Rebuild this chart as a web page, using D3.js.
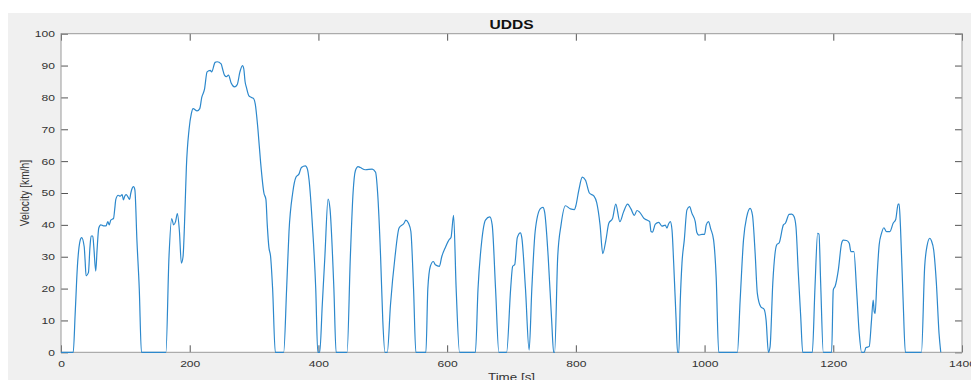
<!DOCTYPE html>
<html>
<head>
<meta charset="utf-8">
<script src="https://cdn.jsdelivr.net/npm/d3@7"></script>
<style>
  body { margin: 0; background: #fff; }
  svg { display: block; }
  text { font-family: "Liberation Sans", Arial, sans-serif; fill: #333; }
</style>
</head>
<body>
<div id="chart"></div>
<script>
// UDDS drive cycle
const timeS = [
  0, 19, 22, 25.5, 29.6, 32, 36, 37.4, 39, 42.6, 45, 46.8, 49.4, 51, 54, 56, 58.7, 61.8, 66, 70,
  72.7, 75, 77.4, 81.6, 83.5, 85.2, 88.8, 92, 95, 97.1, 99, 101.3, 104, 106.5, 108.5, 110.6, 112.7, 114.8, 118, 121.6,
  125, 163, 167.8, 172, 175, 178, 180.8, 184, 187, 189.6, 192.7, 194.8, 199, 202.6, 205.2, 211.4, 215.6, 218.7, 222.9, 227,
  232, 234, 239.5, 242.6, 248.8, 251, 254, 257, 260.3, 264.4, 269.6, 273.8, 278, 282, 284, 286, 288.3, 292, 296, 299.7,
  301.8, 306, 310, 315.3, 318.4, 320.5, 323, 325.7, 328.8, 333, 346, 350.6, 354.3, 360, 365.2, 369.9, 373.5, 379.7, 382.9, 385.5,
  390.6, 395.8, 399, 402, 406, 410, 415, 418, 424, 427.5, 444.5, 449.6, 453.8, 457.4, 461.6, 465, 473, 483.6, 488.8, 492,
  496.6, 500, 503.4, 507, 512, 519, 525.3, 533, 535.8, 540, 543.6, 547.8, 551.4, 567, 570, 573.9, 578.6, 581.7, 588, 591.6,
  597.4, 603.7, 606, 610, 614, 619.3, 643.9, 648, 653.8, 659.5, 666.3, 670, 675.2, 680.4, 692.4, 698.7, 701.8, 705, 709, 713.8,
  716, 721.7, 727.4, 731.6, 736.8, 744.6, 748.8, 751.5, 757, 762.4, 765.5, 767, 771.8, 777, 783.8, 791.6, 798, 800, 804.7, 810,
  815, 821, 828.2, 832.4, 837.6, 841.8, 846.5, 851.2, 857, 862, 868.4, 874, 880.4, 885.6, 890.9, 895, 899, 906, 910.6, 914.7,
  916.8, 918.9, 923.5, 928.7, 933.9, 939, 941.5, 944, 946.8, 949.4, 952, 955.6, 958, 960, 962.3, 964.9, 968.5, 972.6, 976.7, 980.4,
  985.5, 988, 991, 995.9, 1000, 1002.6, 1006, 1009.8, 1014, 1018, 1022, 1051, 1055.3, 1060.5, 1065.6, 1070.8, 1074.4, 1078.6, 1082, 1087.3,
  1092.5, 1095.6, 1099.2, 1101.8, 1106, 1112, 1116, 1122.5, 1125.6, 1131.3, 1135.4, 1139, 1142, 1145.7, 1149.4, 1152.5, 1167.4, 1171.6, 1175.7, 1177.8,
  1180.4, 1184.5, 1197.4, 1200, 1203, 1207.8, 1212.9, 1215.5, 1220.7, 1224.8, 1227.4, 1232, 1236.2, 1240.3, 1244, 1248, 1250.8, 1255.8, 1259.4, 1262,
  1263.6, 1265, 1268, 1271.3, 1274.9, 1278.6, 1282.7, 1287.9, 1293, 1297, 1300.8, 1302.3, 1304.4, 1308.5, 1312, 1337, 1342, 1345.7, 1350, 1352.5,
  1356, 1360.2, 1364.3, 1367
];
const velocityKmh = [
  0, 0, 12, 27, 35, 36, 33.2, 29, 24, 25, 33, 36.5, 36.5, 33, 25.5, 32, 39, 40, 39.7, 39.7,
  41, 40, 41.5, 42, 45, 48, 49.3, 49, 49.5, 47.8, 49, 49.5, 48.8, 48, 50, 51.5, 52, 51, 35, 20,
  0, 0, 30, 42, 40, 41, 43.5, 38, 28, 30, 45, 58, 70, 75, 76.5, 75.8, 76.5, 80, 82.5, 88,
  88.5, 88, 91, 91.2, 90.5, 89, 87, 86.5, 87, 84.5, 83.3, 84, 88, 90, 89, 85, 83, 80.5, 80, 79.5,
  78, 70, 60, 50, 48, 40, 33, 30, 20, 0, 0, 20, 38, 50, 55, 56, 58, 58.5, 57.5, 54,
  40, 20, 0, 0, 15, 30, 48.1, 45, 20, 0, 0, 30, 50, 57, 58.3, 58, 57.3, 57.5, 56.5, 50,
  30, 10, 0, 0, 15, 30, 39, 40.5, 41.5, 40.5, 38, 20, 0, 0, 20, 27, 28.5, 27.5, 27, 30,
  33, 35.5, 36, 43, 20, 0, 0, 20, 35, 41.5, 42.5, 40, 20, 0, 0, 20, 27, 27.5, 36, 37.5,
  36, 20, 0.7, 20, 38, 45, 45.5, 44, 30, 10, 0, 0, 30, 40, 46, 45, 44.8, 46, 51, 55,
  54, 50, 49, 47, 40, 31, 35, 40.5, 42, 46.5, 41, 44, 46.5, 45, 43, 44.5, 44, 42, 41.5, 41,
  37.9, 37.7, 40.2, 40.8, 39.6, 39.9, 39, 40.3, 41, 38.4, 28, 11, 0, 0, 16.4, 28, 35.3, 44.7, 45.7, 43.6,
  41, 37.6, 36.8, 37, 37, 40, 41, 38.6, 35.3, 23.7, 0, 0, 16.4, 35.3, 42.6, 45.2, 43.1, 31, 18.5, 14.3,
  13.5, 10.1, 0, 1.8, 21.7, 33.7, 34.4, 40, 40.5, 43.3, 43.4, 42.6, 39.4, 24.8, 11.2, 0, 0, 20.6, 37.3, 37.1,
  21.7, 0, 0, 19.6, 20.8, 25.8, 34.2, 35.2, 35.1, 34.2, 31.6, 31.6, 19.6, 6, 0, 0, 1.5, 1.8, 10.1, 16.4,
  12.8, 12.2, 23.7, 33.7, 37.3, 39.1, 37.9, 37.9, 40.5, 41.7, 46.5, 46.5, 39.4, 16.4, 0, 0, 26.9, 33.4, 35.8, 35,
  32.1, 21.7, 6, 0
];
const xTicks = [0, 200, 400, 600, 800, 1000, 1200, 1400];
const yTicks = [0, 10, 20, 30, 40, 50, 60, 70, 80, 90, 100];
const chartTitle = 'UDDS';
const xLabel = 'Time [s]';
const yLabel = 'Velocity [km/h]';

const W = 971, H = 380;
const margin = { top: 33.7, right: 9, bottom: 27.7, left: 61 },
  width = W - margin.left - margin.right,
  height = H - margin.top - margin.bottom;
const SX = 1.3; // the picture is stretched sideways, so is its text

const root = d3.select('#chart').append('svg').attr('width', W).attr('height', H);

// figure background
root.append('rect').attr('x', 8).attr('y', 13).attr('width', W - 8).attr('height', H - 13).attr('fill', '#f0f0f0');

const svg = root.append('g').attr('transform', `translate(${margin.left},${margin.top})`);
svg.append('rect').attr('width', width).attr('height', height).attr('fill', '#fff');

const x = d3.scaleLinear().domain([0, 1400]).range([0, width]);
const y = d3.scaleLinear().domain([0, 100]).range([height, 0]);

// axes, ticks inside like matlab
const styleAxis = (g) => {
  g.select('.domain').remove();
  g.selectAll('.tick line').attr('stroke', '#555');
};

svg.append('g')
  .attr('transform', `translate(0,${height})`)
  .call(d3.axisBottom(x).tickValues(xTicks).tickFormat(d3.format('d')).tickSize(-7).tickPadding(7.7))
  .call(styleAxis)
  .call((g) => g.selectAll('text').attr('font-size', 9.3).attr('transform', `scale(${SX},1)`));

svg.append('g')
  .call(d3.axisTop(x).tickValues(xTicks).tickSize(-7).tickFormat(''))
  .call(styleAxis);

svg.append('g')
  .call(d3.axisLeft(y).tickValues(yTicks).tickFormat(d3.format('d')).tickSize(-7))
  .call(styleAxis)
  .call((g) => g.selectAll('text').attr('font-size', 9.3).attr('x', -6 / SX).attr('transform', `scale(${SX},1)`));

svg.append('g')
  .attr('transform', `translate(${width},0)`)
  .call(d3.axisRight(y).tickValues(yTicks).tickSize(-7).tickFormat(''))
  .call(styleAxis);

// box
svg.append('rect').attr('width', width).attr('height', height)
  .attr('fill', 'none').attr('stroke', '#9a9a9a').attr('stroke-width', 1);

// line
const line = d3.line()
  .x((d, i) => x(timeS[i]))
  .y((d) => y(d))
  .curve(d3.curveMonotoneX);

svg.append('path')
  .datum(velocityKmh)
  .attr('d', line)
  .attr('fill', 'none')
  .attr('stroke', '#2c88cc')
  .attr('stroke-width', 1.2)
  .attr('stroke-linejoin', 'round');

// title and labels
root.append('text')
  .attr('transform', `translate(${margin.left + width / 2},29.3) scale(${SX},1)`)
  .attr('text-anchor', 'middle')
  .attr('font-size', 12)
  .attr('font-weight', 'bold')
  .style('fill', '#111')
  .text(chartTitle);

root.append('text')
  .attr('transform', `translate(${margin.left + width / 2},380.7) scale(${SX},1)`)
  .attr('text-anchor', 'middle')
  .attr('font-size', 10.3)
  .text(xLabel);

root.append('text')
  .attr('transform', `translate(29,${margin.top + height / 2}) scale(${SX},1) rotate(-90)`)
  .attr('text-anchor', 'middle')
  .attr('font-size', 10.3)
  .text(yLabel);
</script>
</body>
</html>
